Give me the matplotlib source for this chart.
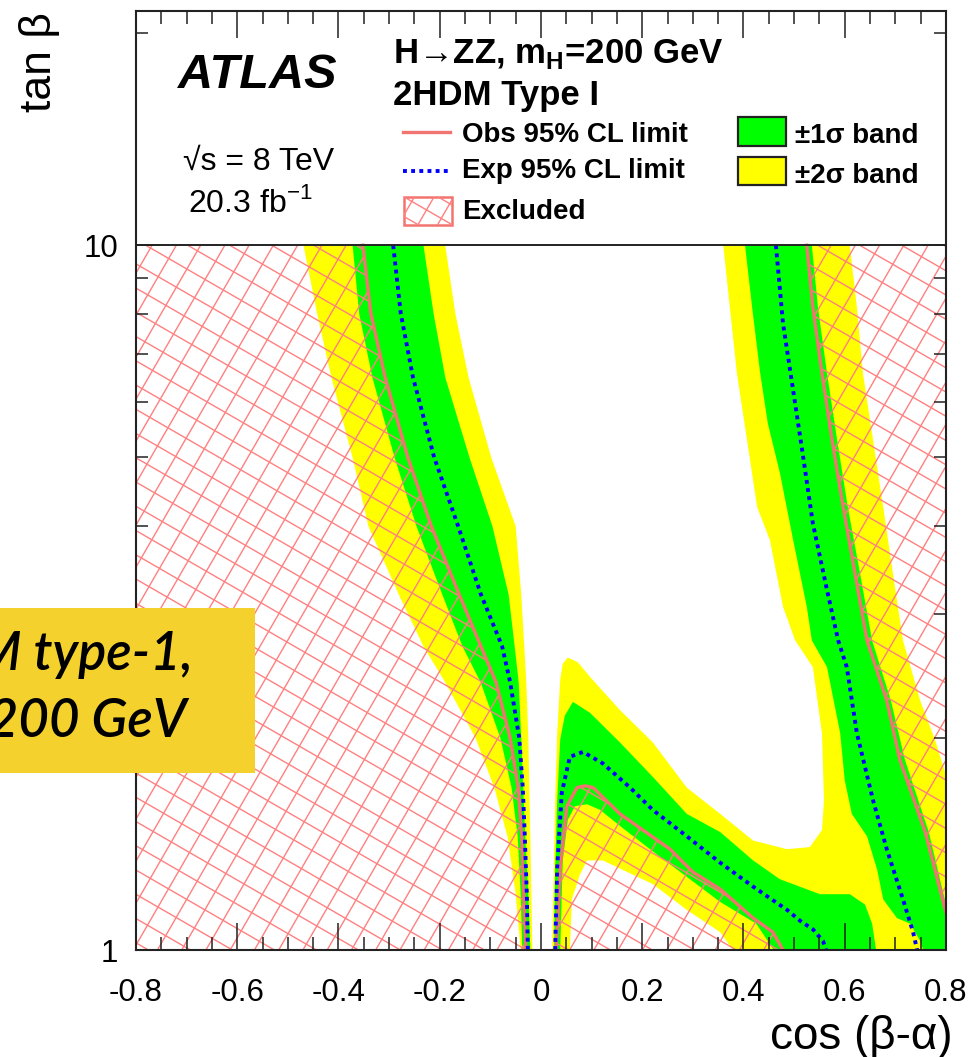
import numpy as np
import matplotlib
matplotlib.use("Agg")
import matplotlib.pyplot as plt
from matplotlib.patches import Polygon, Rectangle
from matplotlib.lines import Line2D
from matplotlib.collections import LineCollection
from matplotlib.transforms import IdentityTransform

plt.rcParams['font.family'] = ['Liberation Sans', 'DejaVu Sans']
plt.rcParams['axes.unicode_minus'] = False

# ---- data (cos(beta-alpha), tan beta) ----
# left branch, all curves sampled on common tan(beta) levels
tb_left = [10, 8, 6.5, 5, 4, 3.2, 2.7, 2.4, 2.0, 1.7, 1.45, 1.2, 1.0]
s2_lo_left = [-0.470, -0.443, -0.415, -0.373, -0.342, -0.282, -0.233, -0.190, -0.130, -0.093, -0.067, -0.051, -0.041]
s1_lo_left = [-0.373, -0.360, -0.334, -0.290, -0.247, -0.196, -0.156, -0.120, -0.081, -0.059, -0.047, -0.041, -0.038]
obs_left = [-0.352, -0.336, -0.308, -0.263, -0.217, -0.162, -0.119, -0.089, -0.061, -0.045, -0.038, -0.034, -0.030]
exp_left = [-0.292, -0.277, -0.253, -0.211, -0.164, -0.119, -0.077, -0.061, -0.043, -0.036, -0.032, -0.028, -0.026]
s1_hi_left = [-0.233, -0.213, -0.190, -0.142, -0.097, -0.065, -0.053, -0.045, -0.040, -0.036, -0.032, -0.026, -0.022]
s2_hi_left = [-0.190, -0.170, -0.144, -0.099, -0.051, -0.040, -0.034, -0.030, -0.026, -0.024, -0.022, -0.020, -0.018]

# +-2 sigma region on the positive side (bump + right branch), outline
s2_right_x = [0.022, 0.024, 0.028, 0.032, 0.038, 0.043, 0.053, 0.073, 0.097, 0.156, 0.221, 0.288, 0.354, 0.419,
              0.486, 0.531, 0.555, 0.559, 0.555, 0.537, 0.502, 0.478, 0.452, 0.427, 0.407, 0.387, 0.373, 0.360,
              0.610, 0.624, 0.636, 0.656, 0.676, 0.695, 0.715, 0.749, 0.778, 0.800, 0.800]
s2_right_y = [1.00, 1.18, 1.63, 2.03, 2.42, 2.55, 2.60, 2.56, 2.44, 2.19, 1.97, 1.70, 1.56, 1.43,
              1.39, 1.40, 1.48, 1.63, 2.03, 2.52, 2.75, 3.07, 3.82, 4.25, 5.29, 6.58, 8.17, 10.0,
              10.0, 8.17, 6.58, 5.29, 4.25, 3.43, 2.75, 2.26, 1.99, 1.77, 1.00]
# hole inside the bump (outside the 2 sigma band)
hole_x = [0.057, 0.061, 0.077, 0.091, 0.122, 0.221, 0.288, 0.354, 0.379]
hole_y = [1.00, 1.18, 1.28, 1.34, 1.34, 1.24, 1.14, 1.06, 1.00]

# +-1 sigma band of the bump
s1_bump_x = [0.026, 0.028, 0.032, 0.038, 0.047, 0.063, 0.097, 0.156, 0.221, 0.288, 0.354, 0.419, 0.472, 0.551,
             0.610, 0.640, 0.654, 0.662,
             0.460, 0.425, 0.354, 0.288, 0.221, 0.156, 0.117, 0.091, 0.067, 0.053, 0.043, 0.038]
s1_bump_y = [1.00, 1.30, 1.63, 1.99, 2.15, 2.25, 2.17, 1.97, 1.76, 1.56, 1.47, 1.34, 1.26, 1.20,
             1.20, 1.16, 1.09, 1.00,
             1.00, 1.09, 1.17, 1.27, 1.38, 1.50, 1.58, 1.61, 1.60, 1.53, 1.34, 1.00]

# +-1 sigma band of the right branch
s1_rb_x = [0.403, 0.417, 0.433, 0.448, 0.472, 0.498, 0.525, 0.535, 0.565, 0.591, 0.600, 0.614, 0.644, 0.664,
           0.676, 0.703, 0.729, 0.749, 0.755, 0.800, 0.800,
           0.766, 0.719, 0.691, 0.654, 0.630, 0.606, 0.585, 0.565, 0.547, 0.535]
s1_rb_y = [10.0, 8.17, 6.58, 5.59, 4.75, 3.82, 3.07, 2.75, 2.52, 2.03, 1.74, 1.56, 1.45, 1.30,
           1.18, 1.11, 1.09, 1.03, 1.00, 1.00, 1.16,
           1.47, 1.86, 2.26, 2.75, 3.43, 4.25, 5.29, 6.58, 8.17, 10.0]

obs_bump_x = [0.030, 0.038, 0.051, 0.071, 0.087, 0.103, 0.156, 0.201, 0.255, 0.300, 0.354, 0.419, 0.458, 0.478]
obs_bump_y = [1.00, 1.31, 1.60, 1.70, 1.71, 1.70, 1.56, 1.48, 1.39, 1.29, 1.22, 1.11, 1.06, 1.00]
exp_bump_x = [0.028, 0.032, 0.041, 0.057, 0.083, 0.122, 0.176, 0.221, 0.288, 0.354, 0.419, 0.486, 0.512, 0.537, 0.557, 0.563]
exp_bump_y = [1.00, 1.31, 1.67, 1.88, 1.91, 1.84, 1.70, 1.58, 1.45, 1.33, 1.23, 1.14, 1.10, 1.07, 1.03, 1.00]

obs_rb_x = [0.525, 0.537, 0.555, 0.575, 0.597, 0.620, 0.644, 0.683, 0.709, 0.759, 0.800]
obs_rb_y = [10.0, 8.17, 6.58, 5.29, 4.25, 3.43, 2.75, 2.26, 1.86, 1.47, 1.13]
exp_rb_x = [0.464, 0.478, 0.498, 0.518, 0.537, 0.565, 0.587, 0.604, 0.624, 0.656, 0.683, 0.715, 0.735, 0.743]
exp_rb_y = [10.0, 7.75, 6.23, 5.00, 4.03, 3.24, 2.75, 2.52, 2.03, 1.63, 1.39, 1.18, 1.06, 1.00]

xticks = [-0.8, -0.6, -0.4, -0.2, 0, 0.2, 0.4, 0.6, 0.8]
xtick_labels = ['-0.8', '-0.6', '-0.4', '-0.2', '0', '0.2', '0.4', '0.6', '0.8']
yticks = [1, 10]
ytick_labels = ['1', '10']

YEL = '#ffff00'
GRN = '#00ff00'
OBS = '#f27470'
HATCH = '#ff8080'
BLUE = '#0000ff'

W, H = 974, 1057


def fx(px):
    return px / W


def fy(py):
    return 1 - py / H


def hatch(parent, clip_patch, spacing=21, lw=1.0, zorder=1.5):
    # crossing lines (-30 and 60 deg) in pixel space, clipped to a patch
    segs = []
    R = np.hypot(W, H)
    c0 = np.array([W / 2, H / 2])
    for ang in (-30, 60):
        a = np.deg2rad(ang)
        d = np.array([np.cos(a), np.sin(a)])
        n = np.array([-np.sin(a), np.cos(a)])
        for k in np.arange(-R, R, spacing):
            c = c0 + n * k
            segs.append([c - d * R, c + d * R])
    lc = LineCollection(segs, colors=HATCH, linewidths=lw, transform=IdentityTransform(), zorder=zorder)
    lc.set_clip_path(clip_patch)
    parent.add_artist(lc)


fig = plt.figure(figsize=(W / 100, H / 100), dpi=100)
ax = fig.add_axes([fx(136), fy(950), (946 - 136) / W, (950 - 11) / H])
ax.set_yscale('log')
ax.set_xlim(-0.8, 0.8)
ax.set_ylim(1, 21.5)

# bands
ax.fill_betweenx(tb_left, s2_lo_left, s2_hi_left, color=YEL, lw=0, zorder=1)
ax.fill_betweenx(tb_left, s1_lo_left, s1_hi_left, color=GRN, lw=0, zorder=1.1)
ax.fill(s2_right_x, s2_right_y, color=YEL, lw=0, zorder=1)
ax.fill(hole_x, hole_y, color='white', lw=0, zorder=1.05)
ax.fill(s1_bump_x, s1_bump_y, color=GRN, lw=0, zorder=1.1)
ax.fill(s1_rb_x, s1_rb_y, color=GRN, lw=0, zorder=1.1)

# excluded regions (hatched)
ex_left = list(zip([-0.8, -0.8] + obs_left, [1, 10] + tb_left))
ex_bump = list(zip(obs_bump_x, obs_bump_y))
ex_right = list(zip(obs_rb_x + [0.8], obs_rb_y + [10.0]))
for pts in (ex_left, ex_bump, ex_right):
    p = Polygon(pts, closed=True, fill=False, lw=0, transform=ax.transData)
    ax.add_patch(p)
    hatch(ax, p)

# limit lines
for xs, ys in ((obs_left, tb_left), (obs_bump_x, obs_bump_y), (obs_rb_x, obs_rb_y)):
    ax.plot(xs, ys, color=OBS, lw=2.4, zorder=2)
for xs, ys in ((exp_left, tb_left), (exp_bump_x, exp_bump_y), (exp_rb_x, exp_rb_y)):
    ax.plot(xs, ys, color=BLUE, lw=2.8, ls=(0, (1, 1.1)), dash_capstyle='butt', zorder=2.1)

# legend area frame line
ax.axhline(10, color='#222222', lw=1.4, zorder=3)

# axes cosmetics
ax.set_axisbelow(False)
ax.set_xticks(xticks)
ax.set_xticklabels(xtick_labels)
ax.set_xticks(np.arange(-0.8, 0.801, 0.05), minor=True)
ax.set_yticks(yticks)
ax.set_yticklabels(ytick_labels)
ax.set_yticks([2, 3, 4, 5, 6, 7, 8, 9, 20], minor=True)
ax.yaxis.set_minor_formatter(matplotlib.ticker.NullFormatter())
ax.tick_params(axis='both', which='both', direction='in', top=True, right=True, width=1.1,
               labelsize=22.5, color='#222222')
ax.tick_params(axis='x', which='major', length=19.5, pad=20)
ax.tick_params(axis='x', which='minor', length=9.5)
ax.tick_params(axis='y', which='major', length=17, pad=13)
ax.tick_params(axis='y', which='minor', length=8.5)
for sp in ax.spines.values():
    sp.set_linewidth(1.5)
    sp.set_color('#222222')
    sp.set_zorder(3)

fig.text(fx(40), fy(12), 'tan β', rotation=90, ha='center', va='top', fontsize=32)
fig.text(fx(953), fy(1037), 'cos (β-α)', ha='right', va='center', fontsize=33)

# legend / labels box
fig.text(fx(178), fy(88), 'ATLAS', fontsize=35, fontweight='bold', fontstyle='italic', va='baseline')
fig.text(fx(183), fy(170), '√s = 8 TeV', fontsize=23, va='baseline')
fig.text(fx(188), fy(212), r'20.3 fb$^{\mathregular{-1}}$', fontsize=23, va='baseline')
fig.text(fx(393), fy(63), r'H→ZZ, m$_{\mathregular{H}}$=200 GeV', fontsize=25, fontweight='bold', va='baseline')
fig.text(fx(393), fy(105), '2HDM Type I', fontsize=25, fontweight='bold', va='baseline')
fig.text(fx(462), fy(142), 'Obs 95% CL limit', fontsize=20, fontweight='bold', va='baseline')
fig.text(fx(462), fy(178), 'Exp 95% CL limit', fontsize=20, fontweight='bold', va='baseline')
fig.text(fx(462), fy(219), 'Excluded', fontsize=20, fontweight='bold', va='baseline')
fig.text(fx(795), fy(143), '±1σ band', fontsize=20, fontweight='bold', va='baseline')
fig.text(fx(795), fy(183), '±2σ band', fontsize=20, fontweight='bold', va='baseline')

fig.add_artist(Line2D([fx(403), fx(450)], [fy(132), fy(132)], color=OBS, lw=2.4, transform=fig.transFigure))
fig.add_artist(Line2D([fx(403), fx(450)], [fy(171), fy(171)], color=BLUE, lw=2.8, ls=(0, (1, 1.1)),
                      dash_capstyle='butt', transform=fig.transFigure))
box = Rectangle((fx(404), fy(225)), (452 - 404) / W, (225 - 197) / H, transform=fig.transFigure,
                facecolor='white', edgecolor=OBS, lw=1.8, zorder=3)
fig.add_artist(box)
hatch(fig, box, spacing=17, zorder=3.1)
fig.add_artist(Rectangle((fx(738), fy(146)), 48 / W, 29 / H, transform=fig.transFigure,
                         facecolor=GRN, edgecolor='#222222', lw=1.6, zorder=3))
fig.add_artist(Rectangle((fx(738), fy(185)), 48 / W, 28 / H, transform=fig.transFigure,
                         facecolor=YEL, edgecolor='#222222', lw=1.6, zorder=3))

# yellow overlay caption, cut at the left edge as in the source image
fig.add_artist(Rectangle((0, fy(773)), 255 / W, (773 - 608) / H, transform=fig.transFigure,
                         facecolor='#f4d12c', edgecolor='none', zorder=10))
cap = dict(fontsize=38, fontstyle='italic', fontweight='semibold', family=['Lato', 'DejaVu Sans'],
           ha='right', va='baseline', zorder=11)
fig.text(fx(193), fy(670), '2HDM type-1,', **cap)
fig.text(fx(187), fy(737), 'mH = 200 GeV', **cap)

fig.savefig('out.png', dpi=100)
